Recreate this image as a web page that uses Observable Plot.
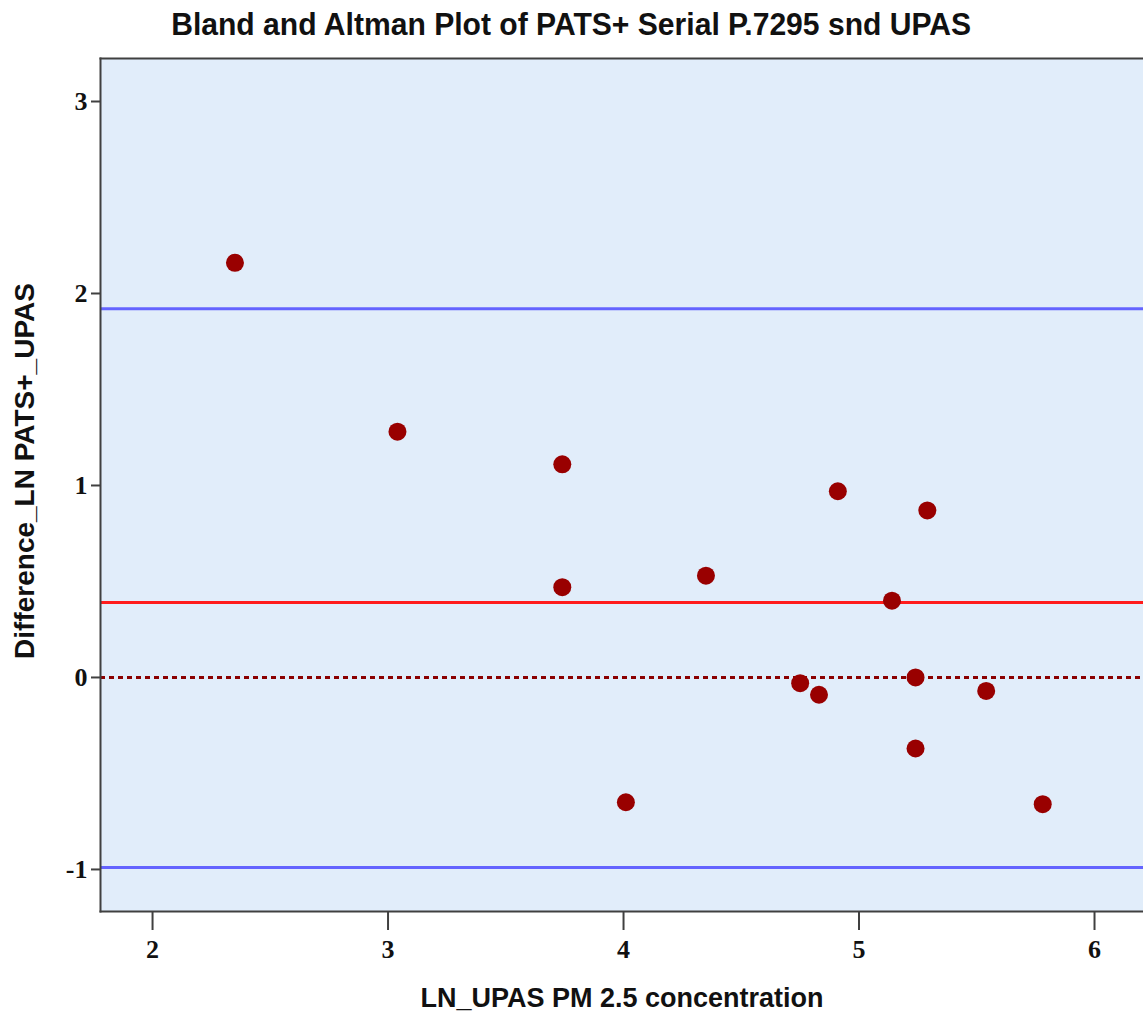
<!DOCTYPE html>
<html>
<head>
<meta charset="utf-8">
<script src="https://cdn.jsdelivr.net/npm/d3@7"></script>
<script src="https://cdn.jsdelivr.net/npm/@observablehq/plot@0.6"></script>
<style>
  html, body { margin: 0; padding: 0; background: #fff; }
  #title { height: 50px; line-height: 50px; text-align: center; white-space: nowrap; overflow: hidden; }
  #title span { display: inline-block; font-family: Arial, "Liberation Sans", sans-serif; font-weight: bold; font-size: 31px; color: #111; transform-origin: center; }
</style>
</head>
<body>
<div id="title"><span id="ttext">Bland and Altman Plot of PATS+ Serial P.7295 snd UPAS</span></div>
<div id="chart"></div>
<script>
// Data
const upasLn = [2.35, 3.04, 3.74, 3.74, 4.01, 4.35, 4.75, 4.83, 4.91, 5.14, 5.24, 5.24, 5.29, 5.54, 5.78];
const diffLn = [2.16, 1.28, 1.11, 0.47, -0.65, 0.53, -0.03, -0.09, 0.97, 0.40, 0.00, -0.37, 0.87, -0.07, -0.66];
const meanDiff = [0.39];
const limitsOfAgreement = [1.92, -0.99];
const zeroLine = [0];
const xTicks = [2, 3, 4, 5, 6];
const yTicks = [-1, 0, 1, 2, 3];
const xLabel = "LN_UPAS PM 2.5 concentration";
const yLabel = "Difference_LN PATS+_UPAS";

const points = upasLn.map((x, i) => ({x, y: diffLn[i]}));

const serif = "'Times New Roman', 'Liberation Serif', 'DejaVu Serif', serif";
const sans = "Arial, 'Liberation Sans', sans-serif";
const fmt = d => String(d);

const chart = Plot.plot({
  width: 1143,
  height: 969,
  marginTop: 8,
  marginBottom: 108,
  marginLeft: 100,
  marginRight: 0,
  style: {background: "#ffffff", overflow: "visible"},
  x: {domain: [1.779, 6.208], axis: null},
  y: {domain: [-1.219, 3.224], axis: null},
  marks: [
    Plot.frame({fill: "#e1edfa", stroke: null}),
    Plot.ruleY(limitsOfAgreement, {stroke: "#6464ff", strokeWidth: 3}),
    Plot.ruleY(meanDiff, {stroke: "#ff1c1c", strokeWidth: 3}),
    Plot.ruleY(zeroLine, {stroke: "#8b0000", strokeWidth: 3, strokeDasharray: "5,4"}),
    Plot.dot(points, {x: "x", y: "y", r: 9, fill: "#990000", stroke: null}),
    Plot.frame({anchor: "left", stroke: "#404040", strokeWidth: 2}),
    Plot.frame({anchor: "top", stroke: "#404040", strokeWidth: 2}),
    Plot.frame({anchor: "bottom", stroke: "#404040", strokeWidth: 2}),
    Plot.axisX(xTicks, {anchor: "bottom", tickSize: 19, tickPadding: 9, tickFormat: fmt, stroke: "#404040", strokeWidth: 2,
      fontFamily: serif, fontWeight: "bold", fontSize: 26, fill: "#111", label: null}),
    Plot.axisY(yTicks, {anchor: "left", tickSize: 9, tickPadding: 4, tickFormat: fmt, stroke: "#404040", strokeWidth: 2,
      fontFamily: serif, fontWeight: "bold", fontSize: 26, fill: "#111", label: null}),
    Plot.text([xLabel], {frameAnchor: "bottom", dy: 87, text: d => d, fontFamily: sans, fontWeight: "bold", fontSize: 27, fill: "#111", lineAnchor: "middle", textAnchor: "middle"}),
    Plot.text([yLabel], {frameAnchor: "left", dx: -75, dy: -14, rotate: -90, text: d => d, fontFamily: sans, fontWeight: "bold", fontSize: 28, fill: "#111", lineAnchor: "middle", textAnchor: "middle"})
  ]
});
document.getElementById("chart").appendChild(chart);

// condense the title to the reference width
const t = document.getElementById("ttext");
const w = t.getBoundingClientRect().width;
if (w > 0) t.style.transform = `scaleX(${800 / w})`;
</script>
</body>
</html>
